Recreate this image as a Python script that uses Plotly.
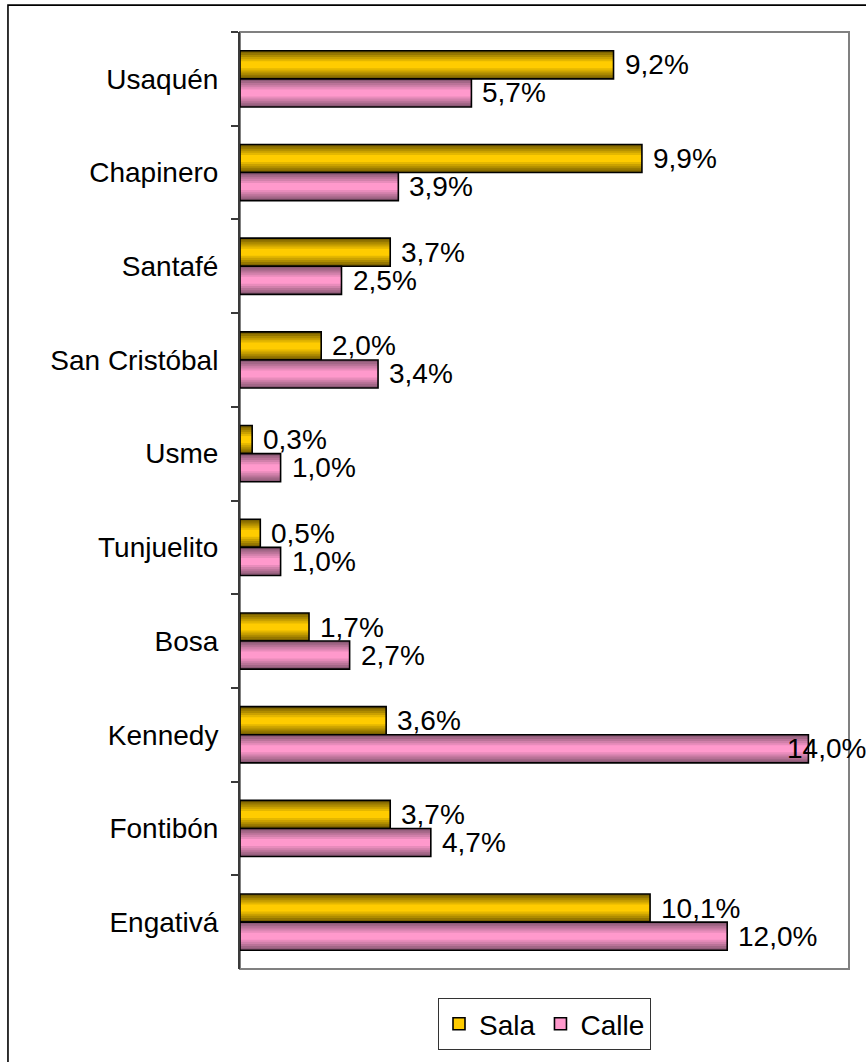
import plotly.graph_objects as go

categories = ["Usaquén", "Chapinero", "Santafé", "San Cristóbal", "Usme",
              "Tunjuelito", "Bosa", "Kennedy", "Fontibón", "Engativá"]
sala = [9.2, 9.9, 3.7, 2.0, 0.3, 0.5, 1.7, 3.6, 3.7, 10.1]
calle = [5.7, 3.9, 2.5, 3.4, 1.0, 1.0, 2.7, 14.0, 4.7, 12.0]

series = [
    ("Sala", sala, "#7A6100", "#FFCC00", -0.3, 14),
    ("Calle", calle, "#8C5A76", "#FF99CC", 0.0, -14),
]

FONT = "Liberation Sans, Arial, sans-serif"
FS = 28
BAR_W = 0.3
N_LAYERS = 6
X_MAX = 15


def hex_to_rgb(h):
    h = h.lstrip("#")
    return tuple(int(h[i:i + 2], 16) for i in (0, 2, 4))


def mix(c1, c2, t):
    a, b = hex_to_rgb(c1), hex_to_rgb(c2)
    return "rgb(%d,%d,%d)" % tuple(round(a[i] + (b[i] - a[i]) * t) for i in range(3))


fig = go.Figure()
annotations = []

for name, vals, dark, light, off, yshift in series:
    # gradient layers (dark edges -> light centre)
    for k in range(N_LAYERS):
        frac = 1 - k * 0.15
        w = BAR_W * frac
        fig.add_trace(go.Bar(
            x=vals, y=categories, orientation="h",
            width=w, offset=off + (BAR_W - w) / 2,
            marker=dict(color=mix(dark, light, k / (N_LAYERS - 1)), line=dict(width=0)),
            showlegend=False, hoverinfo="skip",
        ))
    # outline
    fig.add_trace(go.Bar(
        x=vals, y=categories, orientation="h",
        width=BAR_W, offset=off,
        marker=dict(color="rgba(0,0,0,0)", line=dict(color="black", width=1.6)),
        showlegend=False, hoverinfo="skip",
    ))
    # value labels
    for cat, v in zip(categories, vals):
        annotations.append(dict(
            x=v, y=cat, xref="x", yref="y",
            text=("%.1f%%" % v).replace(".", ","),
            showarrow=False, xanchor="left", yanchor="middle",
            xshift=(-23 if v > X_MAX - 1.5 else 9), yshift=yshift,
            font=dict(size=FS, color="black", family=FONT),
        ))

# legend entries
for name, vals, dark, light, off, yshift in series:
    fig.add_trace(go.Bar(
        x=[None], y=[categories[0]], orientation="h", name=name,
        marker=dict(color=light, line=dict(color="black", width=1.6)),
        showlegend=True, hoverinfo="skip",
    ))

fig.update_layout(
    width=866, height=1062,
    margin=dict(l=240, r=17, t=32, b=90),
    paper_bgcolor="white", plot_bgcolor="white",
    barmode="overlay",
    font=dict(family=FONT, size=FS, color="black"),
    xaxis=dict(range=[0, X_MAX], showticklabels=False, showgrid=False,
               zeroline=False, showline=False, ticks=""),
    yaxis=dict(categoryorder="array", categoryarray=categories,
               range=[9.5, -0.5], showgrid=False, zeroline=False,
               showline=True, linecolor="#3a3a3a", linewidth=2,
               ticks="outside", tickson="boundaries", ticklen=7,
               tickcolor="#3a3a3a", tickwidth=1.5,
               ticklabelstandoff=14,
               tickfont=dict(size=FS, color="black", family=FONT)),
    legend=dict(orientation="h", x=0.5, xanchor="center", y=-0.031, yanchor="top",
                bordercolor="#333333", borderwidth=1, bgcolor="white",
                font=dict(size=FS, family=FONT, color="black"),
                traceorder="normal"),
    annotations=annotations,
    shapes=[
        dict(type="rect", xref="paper", yref="paper", x0=0, x1=1, y0=0, y1=1,
             line=dict(color="#808080", width=2), layer="below"),
        dict(type="rect", xref="paper", yref="paper", x0=-0.381, x1=1.06,
             y0=-0.12, y1=1.0287, line=dict(color="black", width=1.6), layer="above"),
    ],
)

fig.write_html("out.html",
               config={"displayModeBar": False},
               post_script="document.body.style.margin='0';document.body.style.padding='0';")
